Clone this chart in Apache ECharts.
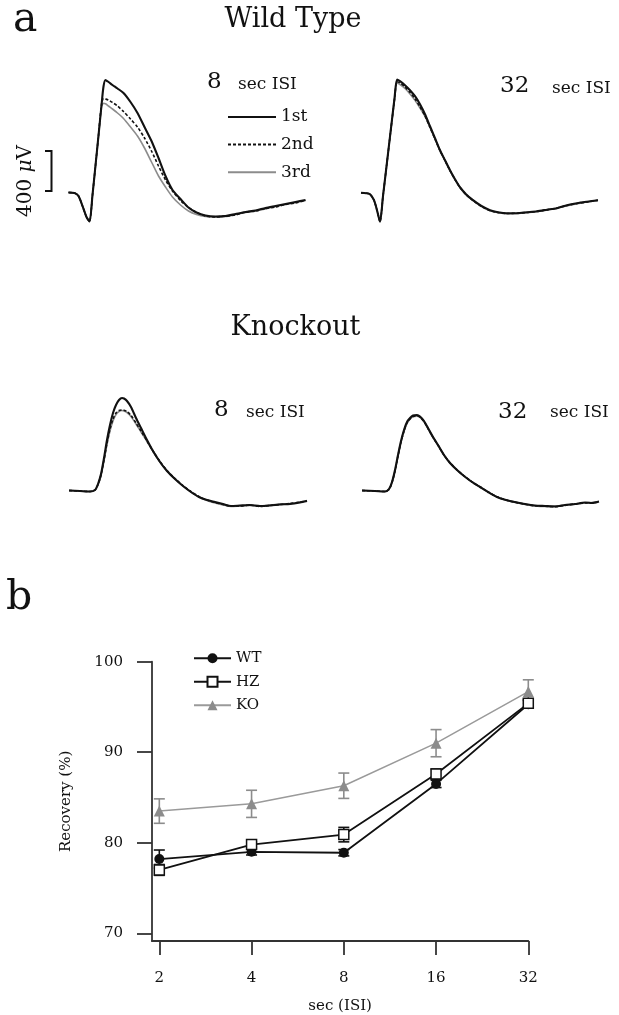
<!DOCTYPE html>
<html>
<head>
<meta charset="utf-8">
<script src="https://cdn.jsdelivr.net/npm/echarts@6/dist/echarts.min.js"></script>
<style>
  html, body { margin: 0; padding: 0; background: #fff; }
  #chart { width: 619px; height: 1015px; }
</style>
</head>
<body>
<div id="chart"></div>
<script>
// ---------- Panel a: evoked field potentials (time in ms, amplitude in µV) ----------
const wt8Time   = [0,0.6,1.0,1.4,1.8,2.1,2.4,2.7,3.0,3.3,3.5,3.7,4.0,4.4,4.9,5.5,6.2,6.9,7.6,8.3,9.0,9.7,10.4,11.2,12.0,12.8,13.7,14.7,15.7,16.7,17.7,18.7,19.7,20.7,21.7,22.7,23.7];
const wt8First  = [0,-5,-35,-135,-245,-290,-25,270,570,870,1060,1125,1105,1075,1040,995,905,795,655,515,345,165,25,-65,-150,-200,-230,-240,-235,-215,-195,-180,-155,-135,-115,-95,-75];
const wt8Second = [0,-5,-35,-135,-245,-290,-25,270,570,880,940,935,925,900,865,810,735,655,545,415,265,125,15,-80,-150,-200,-235,-245,-235,-225,-195,-185,-160,-145,-120,-105,-80];
const wt8Third  = [0,-5,-35,-135,-245,-290,-25,265,560,860,892,888,865,835,795,740,655,565,445,305,165,55,-45,-125,-185,-220,-240,-245,-240,-220,-200,-185,-165,-140,-120,-100,-80];

const wt32Time   = [0,0.5,0.9,1.3,1.6,1.9,2.2,2.5,2.8,3.1,3.35,3.6,3.9,4.4,4.9,5.4,5.9,6.4,6.9,7.4,7.9,8.4,8.9,9.4,9.9,10.5,11.2,12.0,12.9,13.7,14.6,15.6,16.6,17.6,18.6,19.6,20.6,21.6,22.6,23.7];
const wt32First  = [0,-5,-15,-75,-175,-290,-35,220,477,732,944,1132,1115,1075,1025,965,885,785,665,545,425,325,225,135,55,-15,-75,-130,-175,-195,-205,-205,-195,-185,-170,-155,-125,-105,-90,-75];
const wt32Second = [0,-5,-15,-75,-175,-290,-35,220,475,728,935,1110,1098,1058,1003,938,858,768,652,537,422,322,222,132,52,-18,-78,-135,-178,-198,-208,-205,-198,-188,-172,-152,-128,-108,-92,-75];
const wt32Third  = [0,-5,-15,-75,-175,-285,-30,215,470,722,925,1095,1082,1042,988,923,846,762,652,537,420,320,220,130,50,-20,-80,-135,-180,-200,-210,-208,-200,-188,-172,-155,-130,-110,-92,-78];

const ko8Time   = [0,1.1,2.1,2.6,2.9,3.2,3.5,3.8,4.1,4.4,4.7,5.0,5.3,5.5,5.8,6.2,6.7,7.2,7.8,8.4,9.1,9.8,10.6,11.4,12.2,13.0,13.8,14.6,15.4,16.2,17.1,18.1,19.1,20.1,21.1,22.1,23.1,23.8];
const ko8First  = [5,0,-5,10,70,170,330,510,660,780,860,910,930,925,900,840,730,630,510,400,290,200,120,50,-10,-60,-90,-110,-130,-150,-145,-140,-150,-145,-135,-130,-115,-100];
const ko8Second = [5,0,-5,10,65,160,310,480,620,720,780,805,810,808,795,755,680,600,500,400,295,205,125,55,-5,-55,-90,-115,-135,-150,-150,-140,-155,-145,-135,-125,-110,-100];
const ko8Third  = [5,0,-5,10,60,150,300,465,600,700,765,795,805,800,785,745,670,590,495,395,290,200,120,50,-10,-60,-95,-120,-140,-155,-150,-145,-150,-140,-130,-125,-110,-95];

const ko32Time   = [0,1.3,2.3,2.7,3.0,3.3,3.6,3.9,4.2,4.5,4.8,5.1,5.5,5.8,6.2,6.6,7.1,7.6,8.2,8.8,9.5,10.2,11.0,11.8,12.6,13.5,14.4,15.3,16.3,17.3,18.3,19.3,20.3,21.3,22.3,23.0,23.7];
const ko32First  = [5,0,-5,20,90,210,360,500,610,690,730,755,760,745,700,630,540,460,360,280,210,150,90,40,-10,-60,-90,-110,-130,-145,-150,-155,-140,-130,-115,-120,-105];
const ko32Second = [5,0,-5,15,85,200,350,490,600,680,720,745,750,738,695,625,538,458,360,282,212,152,92,42,-8,-58,-90,-112,-132,-148,-152,-158,-145,-128,-120,-118,-110];
const ko32Third  = [5,0,-5,15,80,195,345,485,595,675,718,742,748,735,692,622,535,455,358,280,210,150,90,40,-10,-60,-92,-115,-135,-150,-155,-150,-142,-132,-118,-115,-105];

const traceNames = ['1st', '2nd', '3rd'];
const scaleBarUv = 400;   // calibration bar height, µV

// ---------- Panel b: paired-pulse recovery (%) vs inter-stimulus interval ----------
const isi    = [2, 4, 8, 16, 32];
const wtMean = [78.2, 79.0, 78.9, 86.5, 95.3];
const wtSem  = [1.0, 0.35, 0.35, 0.4, 0.4];
const hzMean = [77.0, 79.8, 80.9, 87.6, 95.4];
const hzSem  = [0.6, 0.3, 0.8, 0.55, 0.4];
const koMean = [83.5, 84.3, 86.3, 91.0, 96.7];
const koSem  = [1.35, 1.5, 1.4, 1.5, 1.3];
const yTicks = [70, 80, 90, 100];

// ---------- drawing ----------
const FONT = 'DejaVu Serif';
const INK = '#111';
const GRAY = '#8c8c8c';
const AXIS = '#333';

const chart = echarts.init(document.getElementById('chart'), null, { renderer: 'canvas', width: 619, height: 1015 });

// four trace panels share one scale: 10 px per ms, 10 px per 100 µV
const panels = [
  { time: wt8Time,  traces: [wt8First, wt8Second, wt8Third],    left: 38.5, top: 52.5 },
  { time: wt32Time, traces: [wt32First, wt32Second, wt32Third], left: 331,  top: 52.7 },
  { time: ko8Time,  traces: [ko8First, ko8Second, ko8Third],    left: 39,   top: 351  },
  { time: ko32Time, traces: [ko32First, ko32Second, ko32Third], left: 332,  top: 351  }
];
const traceStyles = [
  { color: INK,  width: 2.1, type: 'solid' },
  { color: INK,  width: 1.6, type: [3, 2] },
  { color: GRAY, width: 1.6, type: 'solid' }
];

const grids = [], xAxes = [], yAxes = [], series = [];
panels.forEach((p, gi) => {
  grids.push({ left: p.left, top: p.top, width: 270, height: 180 });
  xAxes.push({ gridIndex: gi, type: 'value', min: -3, max: 24, show: false });
  yAxes.push({ gridIndex: gi, type: 'value', min: -400, max: 1400, show: false });
  // draw 3rd, then 2nd, then 1st so the first response sits on top
  [2, 1, 0].forEach(k => {
    series.push({
      name: traceNames[k],
      type: 'line',
      xAxisIndex: gi, yAxisIndex: gi,
      data: p.time.map((t, i) => [t, p.traces[k][i]]),
      symbol: 'none',
      smooth: 0.25,
      lineStyle: traceStyles[k],
      itemStyle: { color: traceStyles[k].color },
      silent: true
    });
  });
});

// calibration bar in the first panel
series.push({
  type: 'custom',
  name: 'scale bar',
  xAxisIndex: 0, yAxisIndex: 0,
  data: [[-1.7, 15, 15 + scaleBarUv]],
  encode: { x: 0, y: [1, 2] },
  renderItem: (params, api) => {
    const bottom = api.coord([api.value(0), api.value(1)]);
    const top = api.coord([api.value(0), api.value(2)]);
    const serif = 6.5;
    return {
      type: 'polyline',
      shape: { points: [[top[0] - serif, top[1]], top, bottom, [bottom[0] - serif, bottom[1]]] },
      style: { stroke: INK, lineWidth: 2, fill: null }
    };
  },
  silent: true
});

// recovery plot
grids.push({ left: 152, top: 661.7, width: 376.3, height: 281 });
xAxes.push({
  gridIndex: 4, type: 'log', logBase: 2, min: 1.893, max: 32,
  axisLine: { onZero: false, lineStyle: { color: AXIS, width: 1.8 } },
  axisTick: { customValues: isi, length: 14, lineStyle: { color: AXIS, width: 1.8 } },
  axisLabel: { customValues: isi, margin: 30, fontFamily: FONT, fontSize: 15, color: INK,
               formatter: v => String(Math.round(v)) },
  splitLine: { show: false },
  name: 'sec (ISI)', nameLocation: 'middle', nameGap: 58,
  nameTextStyle: { fontFamily: FONT, fontSize: 15, color: INK }
});
yAxes.push({
  gridIndex: 4, type: 'value', min: 69.15, max: 100,
  axisLine: { show: true, onZero: false, lineStyle: { color: AXIS, width: 1.8 } },
  axisTick: { show: true, customValues: yTicks, length: 15, lineStyle: { color: AXIS, width: 1.8 } },
  axisLabel: { customValues: yTicks, margin: 29, fontFamily: FONT, fontSize: 15, color: INK },
  splitLine: { show: false },
  name: 'Recovery (%)', nameLocation: 'middle', nameGap: 78,
  nameTextStyle: { fontFamily: FONT, fontSize: 15, color: INK }
});

function errorBar(color) {
  return (params, api) => {
    const x = api.value(0);
    const lo = api.coord([x, api.value(1)]);
    const hi = api.coord([x, api.value(2)]);
    const w = 5.5;
    const st = { stroke: color, lineWidth: 1.6 };
    return {
      type: 'group',
      children: [
        { type: 'line', shape: { x1: lo[0], y1: lo[1], x2: hi[0], y2: hi[1] }, style: st },
        { type: 'line', shape: { x1: hi[0] - w, y1: hi[1], x2: hi[0] + w, y2: hi[1] }, style: st },
        { type: 'line', shape: { x1: lo[0] - w, y1: lo[1], x2: lo[0] + w, y2: lo[1] }, style: st }
      ]
    };
  };
}
const groups = [
  { name: 'KO', mean: koMean, sem: koSem, color: GRAY, line: '#9a9a9a', lineWidth: 1.5,
    symbol: 'triangle', size: 11, item: { color: GRAY } },
  { name: 'WT', mean: wtMean, sem: wtSem, color: INK, line: INK, lineWidth: 1.8,
    symbol: 'circle', size: 10, item: { color: INK } },
  { name: 'HZ', mean: hzMean, sem: hzSem, color: INK, line: INK, lineWidth: 1.8,
    symbol: 'rect', size: 10, item: { color: '#fff', borderColor: INK, borderWidth: 1.5 } }
];
groups.forEach((g, gi) => {
  series.push({
    type: 'custom',
    name: g.name + ' sem',
    xAxisIndex: 4, yAxisIndex: 4,
    data: isi.map((x, i) => [x, g.mean[i] - g.sem[i], g.mean[i] + g.sem[i]]),
    encode: { x: 0, y: [1, 2] },
    renderItem: errorBar(g.color),
    z: 2 + gi * 2,
    silent: true
  });
  series.push({
    type: 'line',
    name: g.name,
    xAxisIndex: 4, yAxisIndex: 4,
    data: isi.map((x, i) => [x, g.mean[i]]),
    symbol: g.symbol, symbolSize: g.size, showSymbol: true,
    lineStyle: { color: g.line, width: g.lineWidth },
    itemStyle: g.item,
    z: 3 + gi * 2,
    silent: true
  });
});

function txt(text, x, y, size, align, extra) {
  return Object.assign({
    type: 'text', x: x, y: y, silent: true,
    style: {
      text: text, font: size + 'px "' + FONT + '"', fill: INK,
      align: align, verticalAlign: 'middle',
      textAlign: align, textVerticalAlign: 'middle'
    }
  }, extra || {});
}

const graphics = [
  txt('a', 13, 20.5, 41, 'left'),
  txt('b', 6, 598.5, 41, 'left'),
  txt('Wild Type', 293, 19.5, 27, 'center'),
  txt('Knockout', 295.5, 327.5, 27, 'center'),
  txt('8', 207, 82.5, 23, 'left'),
  txt('sec ISI', 238, 84.5, 17, 'left'),
  txt('32', 500, 86.5, 23, 'left'),
  txt('sec ISI', 552, 89, 17, 'left'),
  txt('8', 214, 410, 23, 'left'),
  txt('sec ISI', 246, 413, 17, 'left'),
  txt('32', 498, 412.5, 23, 'left'),
  txt('sec ISI', 550, 413, 17, 'left'),
  {
    type: 'text', x: 26, y: 181, rotation: Math.PI / 2, silent: true,
    style: {
      text: '400 {i|\u03bc}V', font: '20px "' + FONT + '"', fill: INK,
      align: 'center', verticalAlign: 'middle', textAlign: 'center', textVerticalAlign: 'middle',
      rich: { i: { fontStyle: 'italic', fontFamily: FONT, fontSize: 20, fill: INK, color: INK } }
    }
  }
];

chart.setOption({
  backgroundColor: '#fff',
  animation: false,
  grid: grids,
  xAxis: xAxes,
  yAxis: yAxes,
  legend: [
    {
      data: traceNames,
      orient: 'vertical', left: 222, top: 103.4,
      itemWidth: 48, itemHeight: 14, itemGap: 10.7,
      itemStyle: { opacity: 0 },
      textStyle: { fontFamily: FONT, fontSize: 17, color: INK, lineHeight: 14 },
      selectedMode: false
    },
    {
      data: ['WT', 'HZ', 'KO'],
      orient: 'vertical', left: 188, top: 645.7,
      itemWidth: 37, itemHeight: 12.5, itemGap: 8.5,
      textStyle: { fontFamily: FONT, fontSize: 15, color: INK, lineHeight: 12.5 },
      selectedMode: false
    }
  ],
  graphic: graphics,
  series: series
});
</script>
</body>
</html>
